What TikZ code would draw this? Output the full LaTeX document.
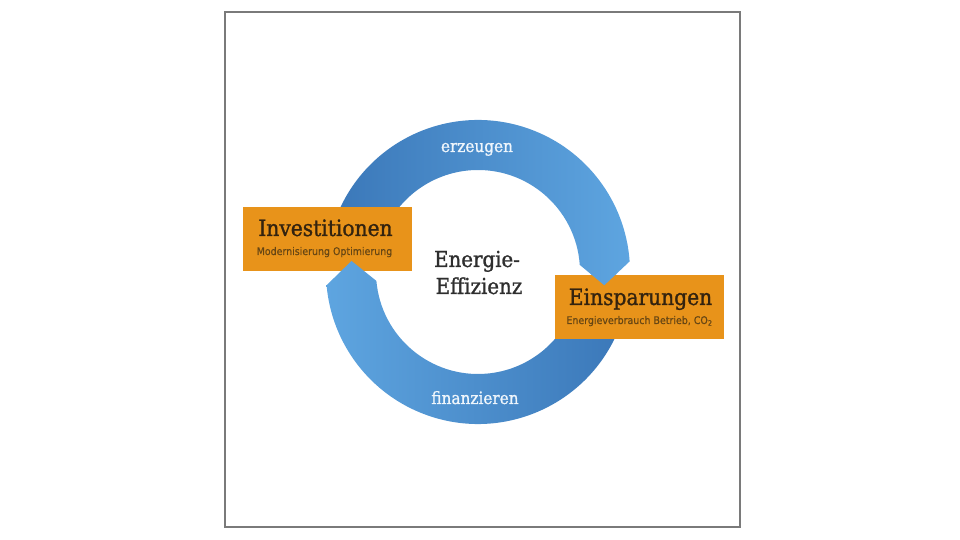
\documentclass[tikz,border=0pt]{standalone}
\usepackage{fontspec}
\setmainfont{DejaVu Serif Condensed}
\newfontfamily\titlefont[FakeBold=1.2]{DejaVu Serif Condensed}
\newfontfamily\subfont[FakeBold=0.6]{DejaVu Sans Condensed}
\usetikzlibrary{positioning}

\definecolor{ringdark}{HTML}{3B78B9}
\definecolor{ringlight}{HTML}{5EA5E0}
\definecolor{boxorange}{HTML}{E8931A}
\definecolor{titletext}{HTML}{33230F}
\definecolor{subtext}{HTML}{664614}
\definecolor{centertext}{HTML}{2E2E2E}
\definecolor{frameline}{HTML}{7A7A7A}

\tikzset{
  box/.style={fill=boxorange, minimum width=169pt, minimum height=64pt, inner sep=0pt},
  boxtitle/.style={anchor=base, inner sep=0pt, text=titletext, font=\titlefont\fontsize{22.5}{26}\selectfont},
  boxsub/.style={anchor=base, inner sep=0pt, text=subtext, font=\subfont\fontsize{10.5}{12}\selectfont},
  ringlabel/.style={anchor=base, inner sep=0pt, text=white!90!ringlight, font=\titlefont\fontsize{17}{20}\selectfont},
  centerlabel/.style={anchor=base, inner sep=0pt, text=centertext, font=\titlefont\fontsize{22}{26}\selectfont},
  %ring pieces, drawn round the centre
  toparc/.style={insert path={(160:152) arc[start angle=160, end angle=4, radius=152]
      -- (-6:127) -- (4:102) arc[start angle=4, end angle=160, radius=102] -- cycle}},
  bottomarc/.style={insert path={(-20:152) arc[start angle=-20, end angle=-175, radius=152]
      -- (-185:127) -- (-175:102) arc[start angle=-175, end angle=-20, radius=102] -- cycle}},
}

\begin{document}
\begin{tikzpicture}[x=1pt,y=1pt]
  \useasboundingbox (0,0) rectangle (960,540);
  \draw[frameline, line width=1.5pt] (225,13) rectangle (740,528);

  \coordinate (c) at (478,268);

  %upper arc: Investitionen -> Einsparungen
  \shade[shift={(c)}, left color=ringdark, right color=ringlight, toparc];
  \node[box] (invest) at (327.5,301) {};

  %lower arc: Einsparungen -> Investitionen
  \shade[shift={(c)}, left color=ringlight, right color=ringdark, bottomarc];
  \node[box] (einspar) at (639.5,233) {};

  %tip of the upper arc lies over the box
  \begin{scope}
    \clip (einspar.north west) rectangle (einspar.south east);
    \shade[shift={(c)}, left color=ringdark, right color=ringlight, toparc];
  \end{scope}

  \node[boxtitle] (investtitle) at ([xshift=-2pt,yshift=3pt]invest.center) {Investitionen};
  \node[boxsub] (investsub) at ([xshift=-3pt,yshift=-16pt]invest.center) {Modernisierung Optimierung};
  \node[boxtitle] (einspartitle) at ([xshift=1pt,yshift=2pt]einspar.center) {Einsparungen};
  \node[boxsub] (einsparsub) at ([xshift=0pt,yshift=-17pt]einspar.center) {Energieverbrauch Betrieb, CO\textsubscript{2}};

  \node[ringlabel] (erzeugen) at (477,388) {erzeugen};
  \node[ringlabel] (finanzieren) at (475,136) {finanzieren};

  \node[centerlabel] (energie) at (477,273) {Energie-};
  \node[centerlabel] (effizienz) at (479,246) {Effizienz};
\end{tikzpicture}
\end{document}
